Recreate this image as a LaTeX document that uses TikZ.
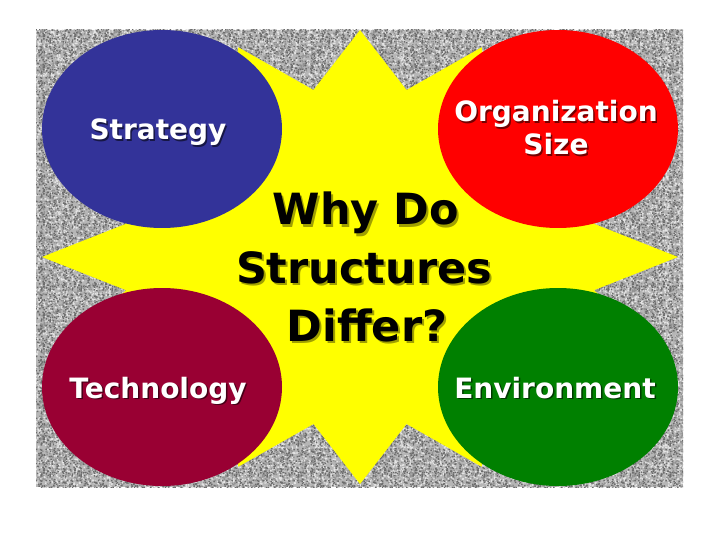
\documentclass[tikz,border=0pt]{standalone}
\usepackage{fontspec}
\setmainfont{DejaVu Sans}
\usetikzlibrary{shapes.geometric,patterns}
\definecolor{blueE}{HTML}{333399}
\definecolor{redE}{HTML}{FF0000}
\definecolor{maroonE}{HTML}{990033}
\definecolor{greenE}{HTML}{008000}
\definecolor{starY}{HTML}{FFFF00}
\definecolor{granite}{HTML}{B6B6B6}
\definecolor{speckD}{HTML}{6C6C6C}
\definecolor{speckM}{HTML}{929292}
\definecolor{speckL}{HTML}{E4E4E4}
\definecolor{shadowY}{HTML}{A0A000}
\pgfmathsetseed{7}
\pgfdeclarepatternformonly{grainA}{\pgfpoint{0pt}{0pt}}{\pgfpoint{31pt}{31pt}}{\pgfpoint{31pt}{31pt}}{%
  \foreach \i in {1,...,90}{\pgfmathsetmacro\px{29.5*rnd}\pgfmathsetmacro\py{29.5*rnd}%
    \pgfpathrectangle{\pgfpoint{\px pt}{\py pt}}{\pgfpoint{1.5pt}{1.5pt}}\pgfusepath{fill}}}
\pgfdeclarepatternformonly{grainB}{\pgfpoint{0pt}{0pt}}{\pgfpoint{37pt}{37pt}}{\pgfpoint{37pt}{37pt}}{%
  \foreach \i in {1,...,170}{\pgfmathsetmacro\px{35.5*rnd}\pgfmathsetmacro\py{35.5*rnd}%
    \pgfpathrectangle{\pgfpoint{\px pt}{\py pt}}{\pgfpoint{1.5pt}{1.5pt}}\pgfusepath{fill}}}
\pgfdeclarepatternformonly{grainC}{\pgfpoint{0pt}{0pt}}{\pgfpoint{43pt}{43pt}}{\pgfpoint{43pt}{43pt}}{%
  \foreach \i in {1,...,260}{\pgfmathsetmacro\px{41.5*rnd}\pgfmathsetmacro\py{41.5*rnd}%
    \pgfpathrectangle{\pgfpoint{\px pt}{\py pt}}{\pgfpoint{1.5pt}{1.5pt}}\pgfusepath{fill}}}
\begin{document}
\begin{tikzpicture}[x=1pt,y=-1pt,
  blob/.style={ellipse, minimum width=240pt, minimum height=198pt, inner sep=0pt, draw=none},
  lbl/.style={font=\bfseries\fontsize{28}{33.6}\selectfont, text=white, anchor=base, inner sep=0pt},
  lblsh/.style={lbl, text=black, text opacity=0.55},
  big/.style={font=\bfseries\fontsize{43}{52}\selectfont, text=black, anchor=base, inner sep=0pt},
  bigsh/.style={big, text=shadowY}]
\useasboundingbox (0,0) rectangle (720,540);
\fill[white] (0,0) rectangle (720,540);
% granite background
\fill[granite] (36,30) rectangle (683,487);
\fill[pattern=grainC, pattern color=speckL] (36,30) rectangle (683,487);
\fill[pattern=grainB, pattern color=speckM] (36,30) rectangle (683,487);
\fill[pattern=grainA, pattern color=speckD] (36,30) rectangle (683,487);
% 16-point star
\fill[starY] (360,30) \foreach \k in {0,...,15}{
  -- ({360+318*cos(90+22.5*\k)}, {257-227*sin(90+22.5*\k)})
  -- ({360+0.75*318*cos(101.25+22.5*\k)}, {257-0.75*227*sin(101.25+22.5*\k)})
} -- cycle;
% ellipses
\node[blob, fill=blueE] (strat) at (162,129) {};
\node[blob, fill=redE] (orgsize) at (558,129) {};
\node[blob, fill=maroonE] (tech) at (162,387) {};
\node[blob, fill=greenE] (env) at (558,387) {};
% labels
\node[lblsh] (stratS) at (159.5,141.5) {Strategy};
\node[lbl] (stratT) at (158,140) {Strategy};
\node[lblsh] (org1S) at (557.5,123.5) {Organization};
\node[lbl] (org1T) at (556,122) {Organization};
\node[lblsh] (org2S) at (557.5,156.5) {Size};
\node[lbl] (org2T) at (556,155) {Size};
\node[lblsh] (techS) at (159.5,399.5) {Technology};
\node[lbl] (techT) at (158,398) {Technology};
\node[lblsh] (envS) at (556.5,399.5) {Environment};
\node[lbl] (envT) at (555,398) {Environment};
% central question
\node[bigsh] (q1S) at (368,227) {Why Do};
\node[big] (q1T) at (366,225) {Why Do};
\node[bigsh] (q2S) at (366,285) {Structures};
\node[big] (q2T) at (364,283) {Structures};
\node[bigsh] (q3S) at (369,343) {Differ?};
\node[big] (q3T) at (367,341) {Differ?};
\end{tikzpicture}
\end{document}
